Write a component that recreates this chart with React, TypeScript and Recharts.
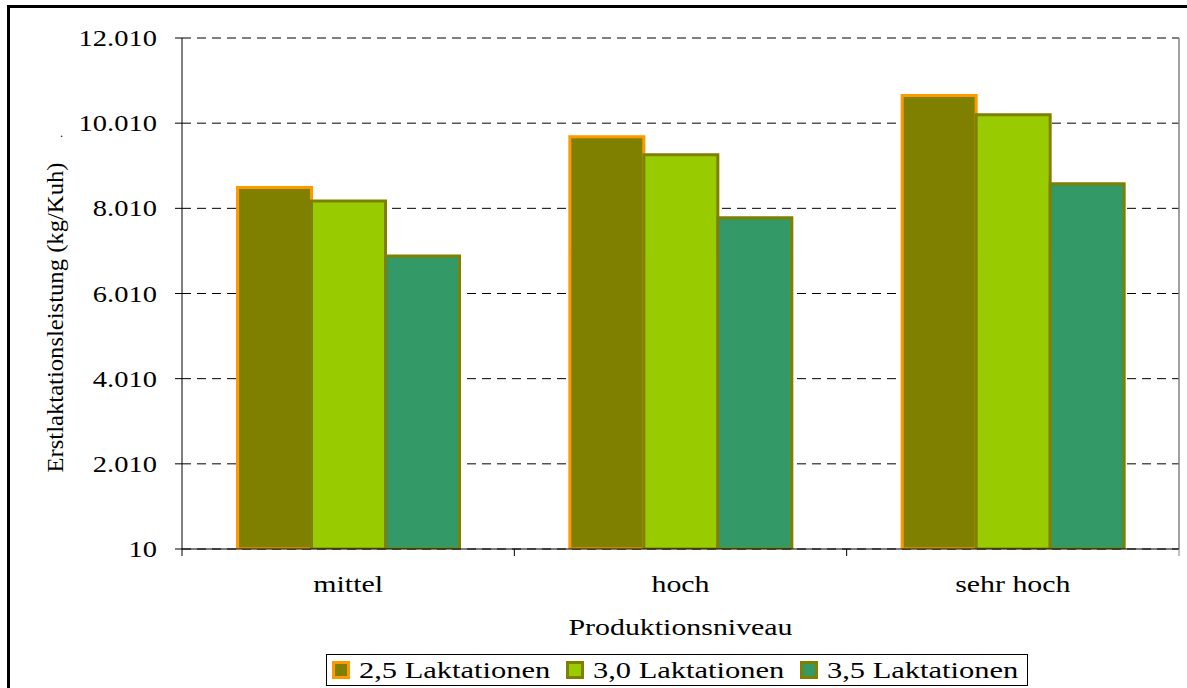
import React from 'react';
import { BarChart, Bar, XAxis, YAxis, CartesianGrid, Legend } from 'recharts';

const categories = ['mittel', 'hoch', 'sehr hoch'];
const series25 = [8500, 9690, 10660];
const series30 = [8180, 9270, 10210];
const series35 = [6890, 7790, 8590];
const yTicks = [10, 2010, 4010, 6010, 8010, 10010, 12010];
const seriesNames = ['2,5 Laktationen', '3,0 Laktationen', '3,5 Laktationen'];
const seriesFill = ['#808000', '#99CC00', '#339966'];
const seriesStroke = ['#FF9900', '#808000', '#808000'];
const xTitle = 'Produktionsniveau';
const yTitle = 'Erstlaktationsleistung (kg/Kuh)';

const data = categories.map((c, i) => ({
  cat: c,
  s25: series25[i],
  s30: series30[i],
  s35: series35[i],
}));

const FONT = '"Liberation Serif", "Times New Roman", Times, serif';
const SX = 1.3;

const fmt = (v: number) => String(v).replace(/\B(?=(\d{3})+(?!\d))/g, '.');

const YTick = (props: any) => {
  const { x, y, payload } = props;
  return (
    <g transform={`translate(${x},${y}) scale(1.24,1)`}>
      <text x={0} y={0} dy={8} textAnchor="end" fontFamily={FONT} fontSize={23} fill="#000">
        {fmt(payload.value)}
      </text>
    </g>
  );
};

const XTick = (props: any) => {
  const { x, y, payload, index, visibleTicksCount } = props;
  const half = payload && typeof payload.offset === 'number' && payload.offset > 0 ? payload.offset : 166;
  const last = index === (visibleTicksCount ?? categories.length) - 1;
  return (
    <g>
      <line x1={x - half} x2={x - half} y1={y} y2={y + 7} stroke="#000" />
      {last && <line x1={x + half} x2={x + half} y1={y} y2={y + 7} stroke="#808080" />}
      <g transform={`translate(${x},${y + 43}) scale(${SX},1)`}>
        <text x={0} y={0} textAnchor="middle" fontFamily={FONT} fontSize={23} fill="#000">
          {payload.value}
        </text>
      </g>
    </g>
  );
};

const XLabel = (props: any) => {
  const vb = props.viewBox || {};
  const cx = (vb.x ?? 0) + (vb.width ?? 0) / 2;
  const y = (vb.y ?? 0) + 86;
  return (
    <g transform={`translate(${cx},${y}) scale(${SX},1)`}>
      <text x={0} y={0} textAnchor="middle" fontFamily={FONT} fontSize={23} fill="#000">
        {xTitle}
      </text>
    </g>
  );
};

const YLabel = (props: any) => {
  const vb = props.viewBox || {};
  const cy = (vb.y ?? 0) + (vb.height ?? 0) / 2 + 24;
  return (
    <g>
      <g transform={`translate(63,${cy}) rotate(-90)`}>
        <text
          x={-155}
          y={0}
          textAnchor="start"
          fontFamily={FONT}
          fontSize={24}
          fill="#000"
          textLength={310}
          lengthAdjust="spacingAndGlyphs"
        >
          {yTitle}
        </text>
      </g>
      <text x={60} y={137} fontFamily={FONT} fontSize={12} fill="#000">.</text>
    </g>
  );
};

const LegendBox = () => {
  const pitch = 234;
  return (
    <svg width={702} height={32} style={{ display: 'block' }}>
      <rect x={0.5} y={0.5} width={701} height={31} fill="#fff" stroke="#000" strokeWidth={1} />
      {seriesNames.map((n, i) => (
        <g key={n}>
          <rect
            x={7.5 + i * pitch}
            y={8.5}
            width={15}
            height={15}
            fill={seriesFill[i]}
            stroke={seriesStroke[i]}
            strokeWidth={3}
          />
          <g transform={`translate(${33 + i * pitch},24) scale(1.27,1)`}>
            <text x={0} y={0} fontFamily={FONT} fontSize={24} fill="#000">
              {n}
            </text>
          </g>
        </g>
      ))}
    </svg>
  );
};

export default function App() {
  return (
    <div
      style={{
        position: 'absolute',
        left: 0,
        top: 0,
        width: 1187,
        height: 688,
        overflow: 'hidden',
        background: '#fff',
      }}
    >
      <div style={{ position: 'absolute', left: 0, top: 0 }}>
        <BarChart
          width={1187}
          height={688}
          data={data}
          margin={{ top: 38, right: 8, left: 0, bottom: 39 }}
          barCategoryGap="16.7%"
          barGap={0}
        >
          <CartesianGrid vertical={false} stroke="#000" strokeDasharray="9 6" />
          <CartesianGrid
            horizontal={false}
            stroke="#808080"
            strokeWidth={1.5}
            verticalCoordinatesGenerator={({ offset }: any) => [offset.left + offset.width]}
          />
          <XAxis
            dataKey="cat"
            height={100}
            interval={0}
            tickLine={false}
            tickSize={0}
            tickMargin={0}
            axisLine={{ stroke: '#000' }}
            tick={<XTick />}
            label={<XLabel />}
          />
          <YAxis
            width={182}
            type="number"
            domain={[10, 12010]}
            ticks={yTicks}
            interval={0}
            allowDataOverflow
            tickSize={7}
            tickMargin={18}
            axisLine={{ stroke: '#000' }}
            tickLine={{ stroke: '#000' }}
            tick={<YTick />}
            label={<YLabel />}
          />
          <Legend
            layout="horizontal"
            verticalAlign="middle"
            align="center"
            wrapperStyle={{ left: 326, top: 654, width: 702, height: 32 }}
            content={() => <LegendBox />}
          />
          <Bar dataKey="s25" name={seriesNames[0]} fill={seriesFill[0]} stroke={seriesStroke[0]} strokeWidth={3} isAnimationActive={false} />
          <Bar dataKey="s30" name={seriesNames[1]} fill={seriesFill[1]} stroke={seriesStroke[1]} strokeWidth={3} isAnimationActive={false} />
          <Bar dataKey="s35" name={seriesNames[2]} fill={seriesFill[2]} stroke={seriesStroke[2]} strokeWidth={3} isAnimationActive={false} />
        </BarChart>
      </div>
      <div
        style={{
          position: 'absolute',
          left: 7,
          top: 5,
          width: 1400,
          height: 900,
          border: '3px solid #000',
          pointerEvents: 'none',
        }}
      />
    </div>
  );
}
